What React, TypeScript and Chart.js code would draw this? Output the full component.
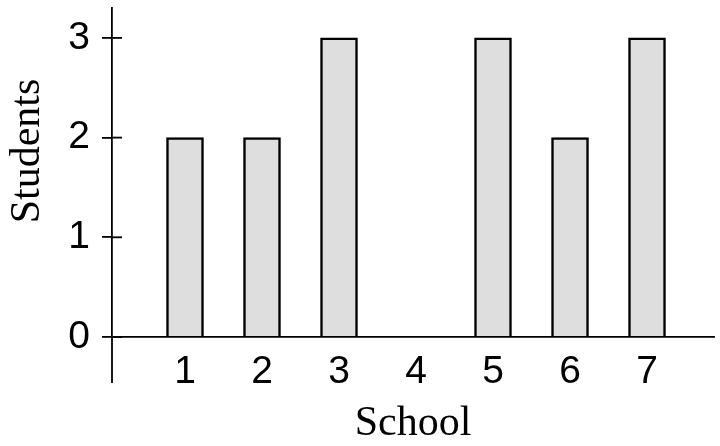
import { useEffect, useRef } from 'react';
import { Chart, registerables } from 'chart.js';

Chart.register(...registerables);

const schools: string[] = ['1', '2', '3', '4', '5', '6', '7'];
const students: number[] = [2, 2, 3, 0, 3, 2, 3];
const yTicks: number[] = [0, 1, 2, 3];
const xTitle = 'School';
const yTitle = 'Students';

const SANS = '"Liberation Sans", Arial, Helvetica, sans-serif';
const SERIF = '"Liberation Serif", "Times New Roman", serif';

export default function App() {
  const ref = useRef<HTMLCanvasElement | null>(null);

  useEffect(() => {
    const canvas = ref.current;
    if (!canvas) return;

    const points = students.map((v, i) => ({ x: i + 1, y: v }));

    const axisPlugin = {
      id: 'axisExtras',
      afterDraw(chart: any) {
        const { ctx, chartArea, scales } = chart;
        const ys = scales.y;
        ctx.save();
        ctx.strokeStyle = '#000';
        ctx.lineWidth = 1.8;
        // inward halves of the y ticks
        ys.ticks.forEach((t: any) => {
          const p = ys.getPixelForValue(t.value);
          ctx.beginPath();
          ctx.moveTo(chartArea.left, p);
          ctx.lineTo(chartArea.left + 10, p);
          ctx.stroke();
        });
        // y axis line continues below the x axis
        ctx.beginPath();
        ctx.moveTo(chartArea.left, chartArea.bottom);
        ctx.lineTo(chartArea.left, chartArea.bottom + 46);
        ctx.stroke();
        // y axis title
        ctx.fillStyle = '#000';
        ctx.font = `42px ${SERIF}`;
        ctx.textAlign = 'center';
        ctx.textBaseline = 'middle';
        ctx.translate(28, chartArea.top + 143);
        ctx.rotate(-Math.PI / 2);
        ctx.fillText(yTitle, 0, 0);
        ctx.restore();
      },
    };

    const chart = new Chart(canvas, {
      type: 'bar',
      data: {
        datasets: [
          {
            data: points as any,
            backgroundColor: '#dedede',
            borderColor: '#000',
            borderWidth: 2.5,
            borderSkipped: 'start',
            barThickness: 37,
          },
        ],
      },
      options: {
        animation: false,
        responsive: false,
        layout: { padding: { left: 0, top: 8, right: 6, bottom: 1 } },
        plugins: {
          legend: { display: false },
          tooltip: { enabled: false },
        },
        scales: {
          x: {
            type: 'linear',
            position: 'bottom',
            offset: false,
            min: 0.052,
            max: 7.87,
            afterBuildTicks: (s: any) => {
              s.ticks = schools.map((_, i) => ({ value: i + 1 }));
            },
            afterFit: (s: any) => {
              s.height = 108;
              s.paddingLeft = 0;
              s.paddingRight = 0;
            },
            ticks: {
              callback: (v: any) => schools[Number(v) - 1] ?? '',
              font: { family: SANS, size: 39 },
              color: '#000',
              padding: 12,
              maxRotation: 0,
              autoSkip: false,
            },
            grid: { display: true, offset: false, drawOnChartArea: false, drawTicks: false },
            border: { display: true, color: '#000', width: 1.8 },
            title: {
              display: true,
              text: xTitle,
              color: '#000',
              font: { family: SERIF, size: 42, lineHeight: 1 },
              padding: { top: 0, bottom: 0 },
            },
          },
          y: {
            type: 'linear',
            min: 0,
            max: 3.3,
            afterBuildTicks: (s: any) => {
              s.ticks = yTicks.map((v) => ({ value: v }));
            },
            afterFit: (s: any) => {
              s.width = 112;
              s.paddingTop = 0;
              s.paddingBottom = 0;
            },
            ticks: {
              font: { family: SANS, size: 39 },
              color: '#000',
              padding: 12,
            },
            grid: {
              drawOnChartArea: false,
              drawTicks: true,
              tickLength: 10,
              color: '#000',
              lineWidth: 1.8,
            },
            border: { display: true, color: '#000', width: 1.8 },
          },
        },
      },
      plugins: [axisPlugin],
    });

    return () => chart.destroy();
  }, []);

  return (
    <div style={{ position: 'absolute', left: 0, top: 0, width: 720, height: 446, background: '#fff' }}>
      <canvas ref={ref} width={720} height={446} style={{ display: 'block' }} />
    </div>
  );
}
